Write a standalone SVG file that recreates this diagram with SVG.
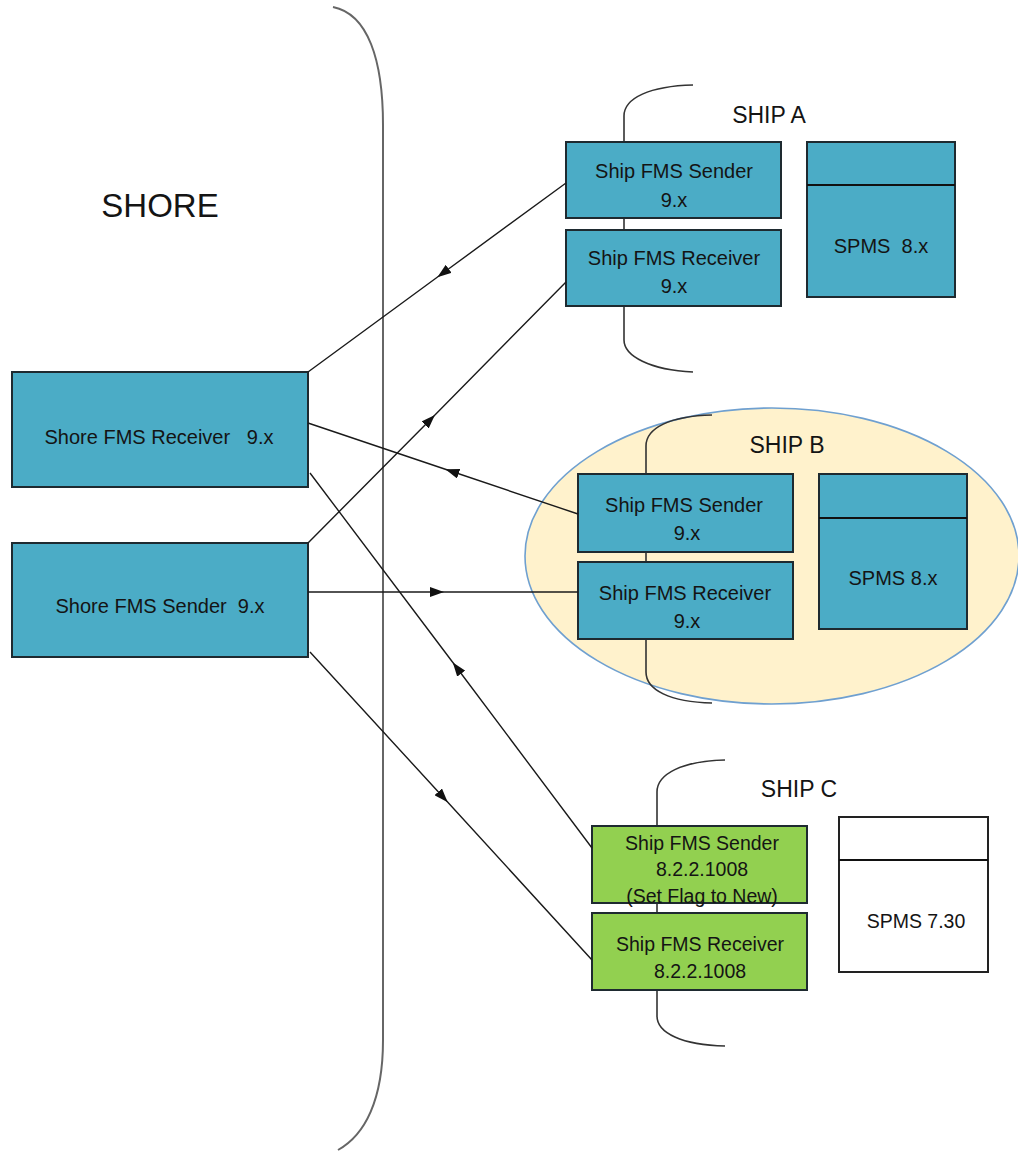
<svg xmlns="http://www.w3.org/2000/svg" width="1018" height="1152" viewBox="0 0 1018 1152">
  <defs>
    <marker id="arrow" viewBox="0 0 14 10" refX="7" refY="5" markerWidth="14" markerHeight="10" markerUnits="userSpaceOnUse" orient="auto">
      <path d="M0,0 L14,5 L0,10 z" fill="#111"/>
    </marker>
  </defs>
  <style>
    .box { fill: #4BACC6; stroke: #1e2a30; stroke-width: 2; }
    .green { fill: #92D050; stroke: #1e2a30; stroke-width: 2; }
    .white { fill: #ffffff; stroke: #222; stroke-width: 2; }
    .divider { stroke: #111; stroke-width: 2; fill: none; }
    .brace { fill: none; stroke: #333; stroke-width: 1.6; }
    .shore-brace { fill: none; stroke: #666; stroke-width: 2; }
    .conn { fill: none; stroke: #1a1a1a; stroke-width: 1.4; marker-mid: url(#arrow); }
    text { font-family: "Liberation Sans", Arial, sans-serif; fill: #141414; text-anchor: middle; }
    .lbl { font-size: 20px; }
    .small { font-size: 19.5px; }
    .title { font-size: 23px; }
    .pre { white-space: pre; }
  </style>

  <rect width="1018" height="1152" fill="#ffffff"/>

  <!-- shore boundary brace -->
  <path class="shore-brace" d="M333,7 C368,14 383,60 383,125 L383,1040 C383,1100 365,1135 338,1150"/>
  <text x="160" y="217" style="font-size:33px">SHORE</text>

  <!-- ship B highlight -->
  <ellipse id="shipB-zone" cx="772" cy="556" rx="247" ry="148" fill="#FFF2CC" stroke="#6FA0D0" stroke-width="1.6"/>

  <!-- ship braces -->
  <path class="brace" d="M693,85 C650,86 624,98 624,116 L624,340 C624,356 650,370 693,372"/>
  <path class="brace" d="M712,415 C670,416 646,428 646,446 L646,672 C646,690 670,702 712,703"/>
  <path class="brace" d="M725,760 C682,761 657,774 657,792 L657,1016 C657,1033 682,1045 725,1046"/>

  <text class="title" x="769" y="123">SHIP A</text>
  <text class="title" x="787" y="453">SHIP B</text>
  <text class="title" x="799" y="797">SHIP C</text>

  <!-- shore nodes -->
  <g id="shore-receiver">
    <rect class="box" x="12" y="372" width="296" height="115"/>
    <text class="lbl pre" x="159" y="444">Shore FMS Receiver   9.x</text>
  </g>
  <g id="shore-sender">
    <rect class="box" x="12" y="543" width="296" height="114"/>
    <text class="lbl pre" x="160" y="613">Shore FMS Sender  9.x</text>
  </g>

  <!-- ship A -->
  <g id="shipA-sender">
    <rect class="box" x="566" y="142" width="215" height="76"/>
    <text class="lbl" x="674" y="178">Ship FMS Sender</text>
    <text class="lbl" x="674" y="207">9.x</text>
  </g>
  <g id="shipA-receiver">
    <rect class="box" x="566" y="230" width="215" height="76"/>
    <text class="lbl" x="674" y="265">Ship FMS Receiver</text>
    <text class="lbl" x="674" y="293">9.x</text>
  </g>
  <g id="shipA-spms">
    <rect class="box" x="807" y="142" width="148" height="155"/>
    <line class="divider" x1="807" y1="185" x2="955" y2="185"/>
    <text class="lbl pre" x="881" y="253">SPMS  8.x</text>
  </g>

  <!-- ship B -->
  <g id="shipB-sender">
    <rect class="box" x="578" y="474" width="215" height="78"/>
    <text class="lbl" x="684" y="512">Ship FMS Sender</text>
    <text class="lbl" x="687" y="540">9.x</text>
  </g>
  <g id="shipB-receiver">
    <rect class="box" x="578" y="562" width="215" height="77"/>
    <text class="lbl" x="685" y="600">Ship FMS Receiver</text>
    <text class="lbl" x="687" y="628">9.x</text>
  </g>
  <g id="shipB-spms">
    <rect class="box" x="819" y="474" width="148" height="155"/>
    <line class="divider" x1="819" y1="518" x2="967" y2="518"/>
    <text class="lbl" x="893" y="585">SPMS 8.x</text>
  </g>

  <!-- ship C -->
  <g id="shipC-sender">
    <rect class="green" x="592" y="826" width="215" height="77"/>
    <text class="small" x="702" y="850">Ship FMS Sender</text>
    <text class="small" x="702" y="876">8.2.2.1008</text>
    <text class="small" x="702" y="903">(Set Flag to New)</text>
  </g>
  <g id="shipC-receiver">
    <rect class="green" x="592" y="913" width="215" height="77"/>
    <text class="small" x="700" y="951">Ship FMS Receiver</text>
    <text class="small" x="700" y="978">8.2.2.1008</text>
  </g>
  <g id="shipC-spms">
    <rect class="white" x="839" y="817" width="149" height="155"/>
    <line class="divider" x1="839" y1="860" x2="988" y2="860"/>
    <text class="small" x="916" y="928">SPMS 7.30</text>
  </g>

  <!-- connectors -->
  <g id="connectors">
    <path class="conn" d="M566,183 L443,273 L308,372"/>
    <path class="conn" d="M308,543 L430,420 L566,282"/>
    <path class="conn" d="M578,514 L452,471.5 L308,423"/>
    <path class="conn" d="M308,592 L437,592 L578,592"/>
    <path class="conn" d="M592,848 L457,668 L310,473"/>
    <path class="conn" d="M310,652 L443,797 L592,960"/>
  </g>
</svg>
